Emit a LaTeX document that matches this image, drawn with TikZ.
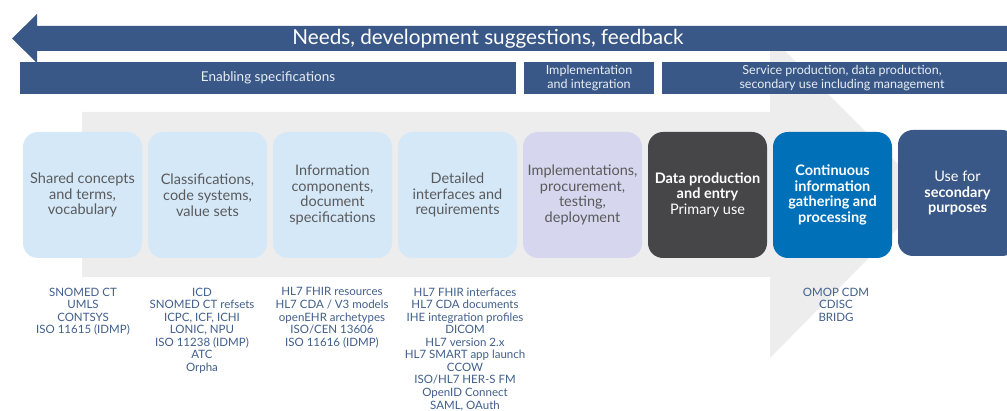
\documentclass[tikz,border=0pt]{standalone}
\usepackage{fontspec}
\setmainfont{Lato}
\definecolor{navy}{RGB}{57,88,135}
\definecolor{lightblue}{RGB}{212,232,248}
\definecolor{lavender}{RGB}{214,215,238}
\definecolor{charcoal}{RGB}{70,70,72}
\definecolor{brightblue}{RGB}{0,112,184}
\definecolor{bggray}{RGB}{237,237,237}
\definecolor{boxtext}{RGB}{90,90,92}
\definecolor{listtext}{RGB}{64,94,140}
\definecolor{bartext}{RGB}{232,238,245}
\tikzset{
  stage/.style={rounded corners=15pt, minimum width=119pt, minimum height=126pt,
    inner sep=2pt, align=center, font=\fontsize{14.5}{15.8}\selectfont},
  lightstage/.style={stage, fill=lightblue, text=boxtext},
  bar/.style={fill=navy, text=bartext, align=center, inner sep=0pt,
    font=\fontsize{12.5}{13.5}\selectfont},
  stdlist/.style={anchor=north, align=center, inner sep=0pt, text=listtext,
    font=\fontsize{11.5}{12.55}\selectfont},
}
\begin{document}
\begin{tikzpicture}[x=1pt, y=-1pt]
\useasboundingbox (0,0) rectangle (1007,411);
\clip (0,0) rectangle (1007,411);

% grey process arrow in the background
\fill[bggray] (82,112) -- (770,112) -- (770,36) -- (930,196) -- (770,358)
  -- (770,277) -- (82,277) -- cycle;

% feedback arrow pointing back to the left
\fill[navy] (1010,26) -- (37,26) -- (37,14) -- (12,38.5) -- (37,63) -- (37,51)
  -- (1010,51) -- cycle;
\node[text=white, font=\fontsize{20.7}{24}\selectfont, inner sep=0pt]
  (feedback) at (488,38.5) {Needs, development suggestions, feedback};

% phase bars
\path[bar] (20,62) rectangle (516,94);
\node[bar, font=\fontsize{13.5}{14}\selectfont] (enabling) at (268,78) {Enabling specifications};
\path[bar] (524,62) rectangle (654,94);
\node[bar] (impl) at (589,78) {Implementation\\and integration};
\path[bar] (662,62) rectangle (1022,94);
\node[bar] (service) at (842,78) {Service production, data production,\\secondary use including management};

% stages
\node[lightstage] (s1) at (82.5,195) {Shared concepts\\and terms,\\vocabulary};
\node[lightstage] (s2) at (207.5,195) {Classifications,\\code systems,\\value sets};
\node[lightstage] (s3) at (332.5,195) {Information\\components,\\document\\specifications};
\node[lightstage] (s4) at (457.5,195) {Detailed\\interfaces and\\requirements};
\node[stage, fill=lavender, text=boxtext] (s5) at (582.5,195) {Implementations,\\procurement,\\testing,\\deployment};
\node[stage, fill=charcoal, text=white, text depth=3pt] (s6) at (707.5,195) {\textbf{Data production}\\\textbf{and entry}\\Primary use};
\node[stage, fill=brightblue, text=white, font=\fontsize{14.5}{15.8}\selectfont\bfseries] (s7) at (832.5,195) {Continuous\\information\\gathering and\\processing};
\node[stage, fill=navy, text=white] (s8) at (957.5,193) {Use for\\\textbf{secondary}\\\textbf{purposes}};

% standards under each stage
\node[stdlist] (l1) at (83,287.5) {SNOMED CT\\UMLS\\CONTSYS\\ISO 11615 (IDMP)};
\node[stdlist] (l2) at (202,287.5) {ICD\\SNOMED CT refsets\\ICPC, ICF, ICHI\\LONIC, NPU\\ISO 11238 (IDMP)\\ATC\\Orpha};
\node[stdlist] (l3) at (332,287.5) {HL7 FHIR resources\\HL7 CDA / V3 models\\openEHR archetypes\\ISO/CEN 13606\\ISO 11616 (IDMP)};
\node[stdlist] (l4) at (465,287.5) {HL7 FHIR interfaces\\HL7 CDA documents\\IHE integration profiles\\DICOM\\HL7 version 2.x\\HL7 SMART app launch\\CCOW\\ISO/HL7 HER-S FM\\OpenID Connect\\SAML, OAuth};
\node[stdlist] (l7) at (836,287.5) {OMOP CDM\\CDISC\\BRIDG};
\end{tikzpicture}
\end{document}
